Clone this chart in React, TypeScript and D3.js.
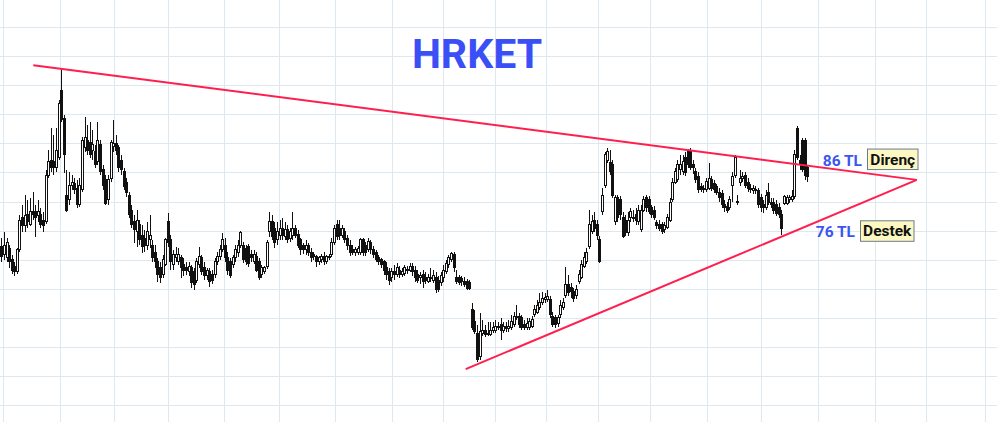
import React from "react";
import * as d3 from "d3";

const W = 997;
const H = 422;

// [open, high, low, close] per trading day (TL)
const candles: number[][] = [
  [72.3, 73.8, 69.7, 70.7], [70.9, 74.9, 70.1, 72.5], [70.4, 73.8, 69.7, 73.0], [72.1, 72.6, 68.7, 69.7],
  [70.1, 70.9, 67.7, 68.3], [69.0, 69.7, 67.3, 68.0], [68.0, 72.1, 67.7, 71.8], [71.8, 77.8, 71.4, 76.9],
  [77.4, 79.5, 74.9, 75.9], [75.9, 81.2, 74.9, 77.6], [77.8, 80.4, 75.5, 76.6], [76.2, 80.7, 75.9, 78.3],
  [78.3, 81.7, 76.9, 77.8], [78.3, 79.5, 74.0, 77.3], [77.6, 80.4, 76.6, 78.3], [77.9, 79.0, 75.5, 76.1],
  [76.9, 78.3, 74.9, 75.9], [76.6, 85.5, 76.2, 84.6], [84.6, 88.9, 84.1, 86.9], [87.2, 92.7, 85.2, 86.0],
  [86.9, 91.5, 84.6, 85.9], [85.9, 92.7, 85.2, 88.9], [87.6, 97.5, 87.2, 97.0], [99.1, 103.0, 93.7, 94.1],
  [94.4, 94.9, 85.0, 88.1], [81.2, 85.5, 78.3, 78.6], [80.4, 85.2, 79.5, 82.9], [82.9, 84.6, 82.1, 83.3],
  [83.1, 84.1, 81.4, 82.1], [82.4, 83.8, 79.0, 79.5], [79.5, 84.1, 79.1, 82.9], [82.1, 91.2, 81.7, 90.6],
  [89.3, 94.6, 88.6, 91.0], [90.6, 93.2, 88.1, 88.9], [90.3, 93.7, 87.6, 88.1], [88.9, 92.4, 87.2, 89.8],
  [88.6, 89.8, 85.8, 86.4], [86.9, 93.7, 86.4, 90.6], [89.8, 90.6, 84.6, 85.2], [85.5, 86.4, 82.1, 82.9],
  [83.8, 84.6, 79.5, 79.8], [80.4, 84.6, 79.5, 83.8], [84.1, 90.6, 83.4, 90.3], [89.6, 94.1, 88.6, 90.1],
  [90.1, 91.5, 88.1, 88.9], [89.3, 89.8, 85.2, 85.9], [87.2, 88.1, 84.6, 85.5], [85.2, 85.9, 82.1, 82.6],
  [83.3, 84.1, 80.9, 81.6], [81.2, 81.7, 77.3, 77.8], [78.6, 79.5, 75.5, 76.1], [76.6, 77.8, 73.0, 75.2],
  [74.9, 78.6, 72.3, 76.9], [76.1, 76.9, 72.6, 73.5], [74.3, 76.1, 71.3, 72.3], [73.8, 75.2, 71.4, 72.6],
  [72.6, 76.6, 71.8, 74.9], [73.5, 77.8, 72.1, 74.3], [72.6, 73.5, 69.7, 70.4], [71.4, 72.6, 68.7, 69.7],
  [69.7, 70.4, 66.3, 67.5], [68.7, 69.7, 66.1, 67.0], [67.5, 70.9, 67.0, 70.1], [69.2, 73.8, 69.0, 73.5],
  [76.6, 78.1, 72.3, 73.0], [73.5, 74.3, 68.3, 69.7], [69.2, 71.8, 68.3, 70.9], [70.4, 72.3, 69.7, 70.9],
  [69.7, 72.1, 69.2, 70.9], [70.4, 70.9, 67.0, 68.7], [69.2, 70.4, 67.3, 68.3], [68.7, 69.7, 67.5, 68.3],
  [68.0, 69.7, 67.3, 69.0], [68.7, 69.2, 65.3, 66.1], [68.0, 68.7, 64.9, 65.8], [66.6, 70.4, 66.1, 69.7],
  [69.2, 72.3, 68.7, 70.6], [70.4, 70.9, 67.5, 68.0], [68.7, 69.7, 66.6, 67.3], [67.3, 68.7, 66.6, 68.3],
  [68.0, 68.7, 65.4, 66.3], [67.6, 68.3, 65.9, 66.6], [67.5, 70.4, 67.0, 69.7], [69.7, 71.4, 69.2, 70.7],
  [70.6, 72.6, 70.1, 71.8], [71.8, 74.7, 71.4, 73.5], [72.6, 73.8, 69.7, 70.4], [70.4, 71.4, 67.5, 68.3],
  [69.7, 70.4, 67.0, 67.3], [69.2, 70.9, 68.7, 70.4], [70.4, 72.6, 69.7, 71.8], [71.4, 73.5, 70.6, 72.5],
  [72.5, 75.0, 72.1, 74.7], [72.5, 73.1, 69.5, 70.1], [72.1, 72.6, 69.2, 69.7], [72.3, 72.8, 68.9, 69.4],
  [70.9, 71.8, 69.7, 70.4], [69.7, 71.8, 69.4, 70.9], [70.6, 71.4, 68.0, 68.3], [69.7, 70.4, 66.6, 67.0],
  [67.5, 69.2, 67.0, 68.7], [68.0, 69.0, 67.7, 68.7], [68.9, 73.5, 68.5, 73.0], [74.9, 78.3, 74.0, 76.6],
  [76.6, 77.8, 73.5, 74.0], [75.5, 76.6, 72.1, 73.0], [73.5, 76.6, 72.6, 74.9], [74.3, 76.9, 73.5, 75.5],
  [75.5, 77.3, 73.5, 74.2], [74.0, 76.6, 73.5, 75.2], [75.2, 76.1, 73.0, 73.5], [73.8, 75.5, 73.1, 74.9],
  [74.2, 78.3, 73.5, 75.5], [75.5, 76.1, 73.8, 74.2], [74.5, 75.2, 72.1, 72.6], [73.5, 73.8, 70.9, 71.8],
  [72.5, 73.0, 71.1, 71.8], [71.8, 73.5, 70.9, 72.5], [72.5, 73.0, 70.7, 71.3], [71.4, 72.1, 69.7, 70.4],
  [70.9, 71.4, 70.1, 70.6], [70.6, 70.9, 68.9, 69.7], [69.7, 70.7, 69.2, 70.4], [70.1, 71.1, 69.5, 70.7],
  [70.7, 71.4, 69.2, 69.7], [69.7, 70.9, 69.4, 70.6], [70.4, 71.1, 70.1, 70.7], [70.9, 73.8, 70.6, 73.1],
  [73.1, 76.1, 72.6, 75.5], [76.1, 76.9, 73.5, 74.0], [75.5, 76.9, 73.5, 74.2], [74.2, 76.1, 73.8, 75.4],
  [74.9, 75.5, 73.0, 73.5], [73.8, 74.3, 71.8, 72.6], [72.6, 73.5, 70.7, 71.4], [71.8, 72.6, 70.9, 71.4],
  [71.4, 72.3, 70.7, 71.8], [71.3, 72.5, 70.9, 72.1], [71.3, 73.8, 70.9, 73.5], [73.5, 73.8, 70.7, 71.3],
  [72.6, 73.1, 70.7, 71.4], [71.8, 73.8, 71.4, 73.3], [73.1, 73.5, 71.1, 71.8], [71.8, 72.5, 70.4, 70.9],
  [71.3, 71.8, 69.7, 70.1], [70.4, 70.9, 69.2, 69.7], [70.1, 70.4, 68.7, 69.2], [69.7, 70.1, 67.5, 68.3],
  [68.7, 69.7, 66.6, 67.5], [68.0, 68.7, 65.8, 66.6], [67.0, 68.7, 66.3, 68.0], [68.0, 69.2, 66.6, 67.5],
  [67.5, 69.5, 67.1, 68.7], [68.3, 69.0, 67.0, 67.5], [67.6, 68.7, 67.1, 68.0], [67.8, 69.2, 67.3, 68.7],
  [68.3, 69.0, 67.6, 68.4], [68.3, 69.5, 68.0, 68.9], [68.9, 69.5, 67.3, 68.0], [68.3, 69.0, 66.3, 67.0],
  [67.6, 68.3, 66.1, 66.6], [67.0, 68.0, 65.9, 67.3], [67.5, 68.3, 65.2, 66.3], [67.0, 68.0, 65.9, 66.6],
  [66.4, 67.6, 66.1, 67.1], [67.0, 68.7, 66.3, 66.8], [66.6, 68.3, 66.1, 67.3], [67.1, 68.0, 64.4, 64.9],
  [66.6, 67.3, 64.5, 64.9], [66.1, 68.0, 65.6, 67.3], [67.0, 69.2, 66.3, 68.3], [68.0, 70.1, 67.7, 69.4],
  [69.2, 70.9, 68.7, 70.4], [70.1, 71.4, 69.7, 71.1], [70.9, 71.4, 68.0, 68.7], [67.0, 68.3, 65.9, 66.4],
  [67.0, 67.5, 65.8, 66.1], [66.8, 67.3, 65.6, 66.3], [66.4, 67.1, 65.4, 65.9], [66.3, 66.8, 64.9, 65.2],
  [66.1, 66.6, 64.9, 65.1], [61.5, 62.7, 58.0, 58.4], [59.4, 61.5, 57.3, 57.7], [57.5, 58.9, 52.5, 52.9],
  [53.4, 61.0, 52.9, 57.7], [57.5, 59.8, 57.0, 58.0], [58.0, 58.9, 56.8, 57.2], [57.3, 59.4, 57.0, 57.5],
  [57.3, 59.4, 57.0, 58.0], [57.9, 59.4, 57.5, 58.4], [58.0, 59.8, 57.5, 58.6], [58.6, 59.4, 58.0, 58.5],
  [58.9, 60.1, 56.3, 58.0], [58.0, 59.4, 57.5, 58.6], [58.6, 59.4, 57.7, 58.2], [58.2, 59.8, 57.7, 58.7],
  [58.4, 60.6, 58.0, 59.4], [58.9, 61.1, 58.5, 60.3], [60.3, 62.3, 59.8, 60.4], [60.4, 61.0, 58.4, 58.9],
  [60.1, 60.6, 58.0, 58.4], [58.9, 59.8, 58.0, 58.5], [58.4, 60.1, 58.0, 59.2], [58.5, 60.1, 58.0, 59.4],
  [58.7, 60.4, 58.4, 59.8], [60.6, 62.3, 60.3, 61.5], [61.1, 63.2, 60.8, 62.3], [61.8, 64.4, 61.5, 62.7],
  [62.8, 64.6, 62.3, 63.5], [63.2, 64.4, 62.7, 63.6], [63.2, 64.9, 62.8, 63.7], [63.2, 63.9, 60.1, 60.6],
  [60.3, 61.1, 58.5, 58.9], [60.1, 60.6, 58.4, 58.9], [59.1, 60.6, 58.5, 60.1], [60.6, 63.2, 60.1, 62.3],
  [61.8, 63.5, 61.5, 62.8], [64.0, 68.8, 63.5, 65.8], [65.8, 67.5, 63.9, 64.4], [65.4, 66.1, 63.5, 64.6],
  [64.6, 65.2, 62.8, 63.5], [63.9, 65.8, 63.4, 64.9], [66.3, 68.3, 65.9, 67.5], [67.1, 70.1, 66.8, 69.2],
  [69.0, 71.4, 68.7, 70.4], [69.7, 72.1, 69.4, 71.4], [72.3, 78.6, 71.9, 76.1], [74.9, 77.8, 74.5, 76.6],
  [76.9, 78.3, 74.9, 75.5], [76.1, 76.9, 73.5, 74.3], [73.5, 74.2, 69.5, 69.7], [78.3, 82.4, 77.8, 81.2],
  [82.9, 88.6, 82.4, 88.1], [87.2, 89.3, 86.7, 88.6], [86.7, 88.9, 84.6, 85.2], [86.4, 87.2, 80.7, 81.2],
  [76.6, 81.2, 76.1, 80.7], [80.7, 81.2, 76.6, 77.3], [80.4, 81.0, 76.9, 77.8], [77.4, 78.3, 73.8, 74.0],
  [76.9, 77.8, 74.2, 74.7], [74.7, 78.3, 74.2, 76.9], [77.3, 79.0, 76.6, 78.3], [77.3, 78.6, 76.6, 77.4],
  [77.8, 79.0, 76.1, 76.9], [76.6, 79.5, 76.1, 78.6], [75.2, 79.5, 74.9, 78.6], [78.6, 81.0, 78.3, 80.4],
  [80.7, 81.2, 78.3, 79.0], [80.4, 81.0, 78.0, 78.3], [79.0, 79.5, 77.3, 77.8], [78.6, 79.3, 76.9, 77.4],
  [76.4, 76.9, 75.4, 75.9], [76.2, 76.9, 75.0, 75.5], [76.1, 76.6, 74.5, 74.9], [75.2, 76.6, 74.7, 75.9],
  [75.7, 78.0, 75.4, 77.4], [76.9, 80.7, 76.6, 80.0], [80.4, 84.1, 80.0, 83.4], [83.4, 85.9, 83.1, 85.2],
  [83.8, 87.2, 83.4, 86.4], [85.5, 88.1, 84.6, 86.4], [85.2, 88.1, 84.6, 86.9], [87.6, 88.6, 84.5, 85.0],
  [88.6, 89.1, 85.8, 86.4], [88.9, 89.3, 85.5, 86.0], [86.4, 87.2, 84.8, 85.9], [85.2, 85.9, 83.3, 83.8],
  [84.3, 85.2, 81.6, 82.1], [82.6, 83.3, 81.7, 82.2], [82.4, 82.9, 81.6, 82.1], [82.1, 84.1, 81.7, 83.6],
  [82.4, 86.7, 82.1, 84.0], [83.8, 84.5, 81.9, 82.4], [83.1, 83.8, 81.6, 82.1], [82.6, 83.1, 81.2, 81.7],
  [81.7, 82.4, 80.0, 80.7], [81.4, 82.1, 79.0, 79.5], [79.5, 80.4, 78.3, 79.0], [79.3, 80.0, 78.1, 78.6],
  [79.0, 81.0, 78.6, 80.4], [82.9, 85.2, 80.0, 84.3], [84.6, 88.1, 84.1, 87.7], [80.0, 81.2, 79.5, 80.1],
  [83.3, 85.5, 82.8, 84.1], [84.1, 85.2, 83.4, 84.3], [84.5, 85.2, 82.4, 82.9], [83.4, 84.1, 81.7, 82.4],
  [82.4, 83.1, 81.6, 82.1], [81.9, 82.9, 81.4, 82.4], [82.1, 82.8, 81.4, 81.9], [81.9, 82.4, 79.0, 79.5],
  [80.7, 81.4, 78.3, 79.0], [79.5, 80.4, 78.1, 79.0], [79.0, 82.1, 78.6, 81.2], [81.7, 83.3, 79.5, 80.0],
  [80.0, 80.7, 79.0, 79.5], [80.0, 80.7, 78.0, 78.6], [79.5, 80.4, 77.6, 78.1], [79.0, 79.8, 77.3, 77.8],
  [77.8, 78.6, 74.3, 75.5], [79.8, 81.2, 79.5, 80.9], [79.8, 81.2, 79.5, 80.7], [80.4, 81.2, 79.8, 80.7],
  [80.5, 82.1, 80.0, 80.9], [80.9, 88.9, 80.5, 88.1], [92.7, 93.1, 87.2, 87.7], [87.2, 88.1, 85.5, 86.5],
  [90.6, 91.0, 85.2, 85.5], [90.6, 91.0, 83.8, 84.6], [85.9, 86.4, 83.4, 84.3],
];

// month boundaries, in trading-day index units
const monthStarts = [0.8, 22.8, 43.5, 64.2, 85.8, 106.9, 128.6, 150.5, 170, 190.2, 209.6, 229.5, 249.5, 271.5, 292.3, 314.2, 336.2, 355.8, 378.6];
// horizontal grid, TL
const gridPrices = [45, 50, 55, 60, 65, 70, 75, 80, 85, 90, 95, 100, 105, 110];

// trend lines: [index, price]
const resistance = [[12.3, 103.5], [352.1, 83.8]];
const support = [[178.6, 51.3], [352.1, 83.8]];

const levels = [
  { value: 86, text: "86 TL", tag: "Direnç" },
  { value: 76, text: "76 TL", tag: "Destek" },
];

const title = "HRKET";

export default function App() {
  const x = d3.scaleLinear().domain([0, candles.length - 1]).range([1.3, 807.3]);
  const y = d3.scaleLinear().domain([50, 110]).range([376.7, 27.3]);
  const line = d3
    .line<number[]>()
    .x((d) => x(d[0]))
    .y((d) => y(d[1]));

  return (
    <svg
      width={W}
      height={H}
      style={{ position: "absolute", left: 0, top: 0, background: "#fff" }}
    >
      <rect x={0} y={0} width={W} height={H} fill="#fff" />
      <g stroke="#dde8f1" strokeWidth={1} shapeRendering="crispEdges">
        {gridPrices.map((p) => (
          <line key={"h" + p} x1={0} x2={W} y1={y(p)} y2={y(p)} />
        ))}
        {monthStarts.map((m) => (
          <line key={"v" + m} x1={x(m)} x2={x(m)} y1={0} y2={H} />
        ))}
      </g>
      <text
        x={477}
        y={67.8}
        textAnchor="middle"
        fontFamily="Roboto, 'Open Sans', sans-serif"
        fontWeight={700}
        fontSize={41}
        fill="#3a4ff6"
      >
        {title}
      </text>
      <g shapeRendering="crispEdges">
        {candles.map((c, i) => {
          const [o, h, l, cl] = c;
          const cx = Math.round(x(i));
          const up = cl >= o;
          const top = y(Math.max(o, cl));
          const bot = y(Math.min(o, cl));
          return (
            <g key={i}>
              <line x1={cx + 0.5} x2={cx + 0.5} y1={y(h)} y2={y(l)} stroke="#111" strokeWidth={1} />
              <rect
                x={cx - 0.5}
                y={top}
                width={2}
                height={Math.max(1, bot - top)}
                fill={up ? "#fff" : "#111"}
                stroke="#111"
                strokeWidth={1}
              />
            </g>
          );
        })}
      </g>
      <path d={line(resistance) || ""} stroke="#ff1f4f" strokeWidth={2} fill="none" />
      <path d={line(support) || ""} stroke="#ff1f4f" strokeWidth={2} fill="none" />
      {levels.map((lv, k) => {
        const yy = y(lv.value);
        const tx = k === 0 ? 862 : 855;
        const bx = k === 0 ? 867.5 : 860.5;
        const bw = k === 0 ? 50.5 : 53.5;
        const by = k === 0 ? yy - 18 : yy - 4.5;
        return (
          <g key={lv.tag} fontFamily="Roboto, 'Open Sans', sans-serif" fontWeight={700} fontSize={15.5}>
            <text x={tx} y={by + 16.5} textAnchor="end" fill="#3b55f0">
              {lv.text}
            </text>
            <rect x={bx} y={by} width={bw} height={20.5} fill="#fdf8c2" stroke="#6b7c8c" strokeWidth={1} />
            <text x={bx + bw / 2} y={by + 15.5} textAnchor="middle" fill="#111">
              {lv.tag}
            </text>
          </g>
        );
      })}
    </svg>
  );
}
